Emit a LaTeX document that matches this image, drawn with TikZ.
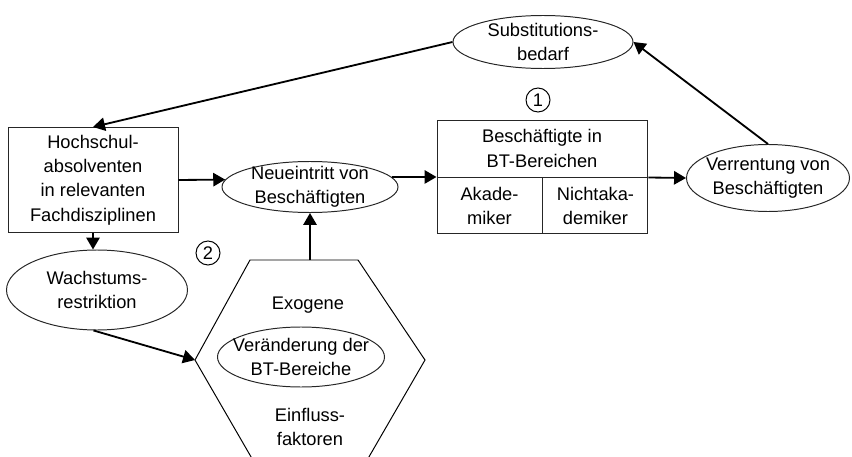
\documentclass[tikz,border=0pt]{standalone}
\usepackage{fontspec}
\setmainfont{Liberation Sans}
\usetikzlibrary{shapes.geometric, arrows.meta, positioning}

\begin{document}
\begin{tikzpicture}[x=0.25mm, y=-0.25mm, >={Triangle[length=8.5pt,width=9.5pt]},
  font=\fontsize{13}{17.4}\selectfont,
  bx/.style={draw=black!85, line width=0.7pt, align=center, inner sep=0pt},
  ov/.style={ellipse, draw=black!85, line width=0.7pt, align=center,
             inner xsep=-3cm, inner ysep=-1cm},
  num/.style={circle, draw, line width=0.7pt, inner sep=0pt, minimum size=0.6cm},
  arr/.style={->, line width=1.3pt}]

  \clip (0,0) rectangle (852,457);

  \node[bx, minimum width=4.25cm, minimum height=2.625cm] (hs) at (93,180)
    {Hochschul-\\absolventen\\in relevanten\\Fachdisziplinen};
  \node[ov, minimum width=4.4cm, minimum height=1.275cm] (neu) at (310,187)
    {Neueintritt von\\Beschäftigten};
  \node[ov, minimum width=4.5cm, minimum height=1.325cm] (subst) at (543,42)
    {Substitutions-\\bedarf};
  \node[bx, minimum width=5.25cm, minimum height=1.425cm] (bt) at (542,148.5)
    {Beschäftigte in\\BT-Bereichen};
  \node[bx, anchor=north west, minimum width=2.625cm, minimum height=1.4cm] (aka)
    at (bt.south west) {Akade-\\miker};
  \node[bx, right=0pt of aka, minimum width=2.625cm, minimum height=1.4cm] (nak)
    {Nichtaka-\\demiker};
  \node[ov, minimum width=4.075cm, minimum height=1.675cm] (verr) at (768,178)
    {Verrentung von\\Beschäftigten};
  \node[ov, minimum width=4.525cm, minimum height=2cm] (wachs) at (97,290)
    {Wachstums-\\restriktion};
  \node[num] (n1) at (538,100) {1};
  \node[num] (n2) at (208,253) {2};

  % exogene Einflussfaktoren
  \coordinate (hexn) at (310,260);
  \coordinate (hexw) at (195,360);
  \draw[line width=0.7pt] (250,260) -- (358,260) -- (425,360) -- (366,462)
    -- (254,462) -- (hexw) -- cycle;
  \node (exo) at (308,305) {Exogene};
  \node[ov, minimum width=4.175cm, minimum height=1.5cm] (ver) at (301,357)
    {Veränderung der\\BT-Bereiche};
  \node[align=center] (einf) at (310,427) {Einfluss-\\faktoren};

  \draw[arr] (hs.east) -- (neu.175);
  \draw[arr] (neu.7) -- (neu.7 -| bt.west);
  \draw[arr] (nak.north east) -- (verr.west);
  \draw[arr] (verr.north) -- (subst.east);
  \draw[arr] (subst.west) -- (hs.north);
  \draw[arr] (hs.south) -- (hs.south |- wachs.north);
  \draw[arr] (wachs.265) -- (hexw);
  \draw[arr] (hexn) -- (neu.south);

\end{tikzpicture}
\end{document}
